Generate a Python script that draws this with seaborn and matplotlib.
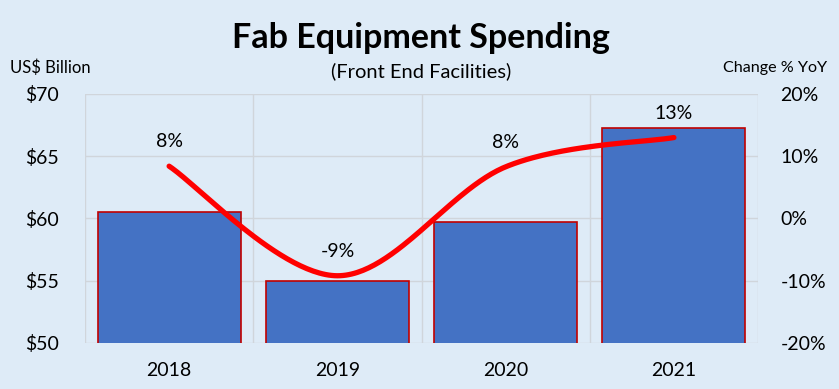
import numpy as np
import pandas as pd
import matplotlib.pyplot as plt
import seaborn as sns

# data
years = ["2018", "2019", "2020", "2021"]
spend = [60.5, 55.0, 59.7, 67.3]          # US$ billion
yoy = [8.4, -9.2, 8.3, 13.0]              # change % YoY
yoy_labels = ["8%", "-9%", "8%", "13%"]

bg = "#DEEBF7"
grid_col = "#D0D5DB"

sns.set_theme(style="white")
plt.rcParams["font.family"] = ["Lato", "DejaVu Sans"]
plt.rcParams["text.color"] = "black"

df = pd.DataFrame({"year": years, "spend": spend, "yoy": yoy})

fig = plt.figure(figsize=(8.39, 3.89), dpi=100, facecolor=bg)
ax = fig.add_axes([0.1013, 0.1183, 0.8022, 0.6401])
ax.set_facecolor(bg)

sns.barplot(data=df, x="year", y="spend", color="#4472C4", width=0.85,
            edgecolor="#C00000", linewidth=1.2, saturation=1, ax=ax, zorder=3)

ax.set_ylim(50, 70)
ax.set_xlim(-0.5, 3.5)
ax.set_yticks([50, 55, 60, 65, 70])
ax.set_yticklabels([f"${v}" for v in [50, 55, 60, 65, 70]])
ax.set_xlabel("")
ax.set_ylabel("")
ax.tick_params(axis="both", length=0, labelsize=14, colors="black")
ax.tick_params(axis="y", pad=19)
ax.tick_params(axis="x", pad=14)
for s in ax.spines.values():
    s.set_visible(False)
# gridlines: horizontal at ticks, vertical between categories
for v in [50, 55, 60, 65, 70]:
    ax.axhline(v, color=grid_col, lw=1, zorder=1)
for xv in [-0.5, 0.5, 1.5, 2.5, 3.5]:
    ax.axvline(xv, color=grid_col, lw=1, zorder=1)

# secondary axis: smoothed YoY line (Excel-style bezier smoothing)
ax2 = ax.twinx()
ax2.set_ylim(-20, 20)
ax2.set_yticks([-20, -10, 0, 10, 20])
ax2.set_yticklabels([f"{v}%" for v in [-20, -10, 0, 10, 20]])
ax2.tick_params(axis="y", length=0, labelsize=14, pad=16, colors="black")
for s in ax2.spines.values():
    s.set_visible(False)
ax2.grid(False)

px = np.arange(len(yoy), dtype=float)
py = np.array(yoy, dtype=float)
P = np.column_stack([px, py])
Pext = np.vstack([P[0], P, P[-1]])
curve = []
t = np.linspace(0, 1, 60)[:, None]
for i in range(len(P) - 1):
    p0, p1, p2, p3 = Pext[i], Pext[i + 1], Pext[i + 2], Pext[i + 3]
    b1 = p1 + (p2 - p0) / 6
    b2 = p2 - (p3 - p1) / 6
    seg = ((1 - t) ** 3) * p1 + 3 * ((1 - t) ** 2) * t * b1 + 3 * (1 - t) * t ** 2 * b2 + t ** 3 * p2
    curve.append(seg)
curve = np.vstack(curve)
ax2.plot(curve[:, 0], curve[:, 1], color="#FF0000", lw=3.8,
         solid_capstyle="round", zorder=5)

for xi, yi, lab in zip(px, py, yoy_labels):
    ax2.annotate(lab, (xi, yi), xytext=(0, 17.5), textcoords="offset points",
                 ha="center", va="center", fontsize=14, color="black")

fig.text(0.502, 0.902, "Fab Equipment Spending", ha="center", va="center",
         fontsize=24.5, fontweight="bold", color="black")
fig.text(0.502, 0.818, "(Front End Facilities)", ha="center", va="center",
         fontsize=14.5, color="black")
fig.text(0.012, 0.825, "US$ Billion", ha="left", va="center", fontsize=12,
         color="black")
fig.text(0.986, 0.825, "Change % YoY", ha="right", va="center", fontsize=11.6,
         color="black")

fig.savefig("out.png", dpi=100, facecolor=bg)
